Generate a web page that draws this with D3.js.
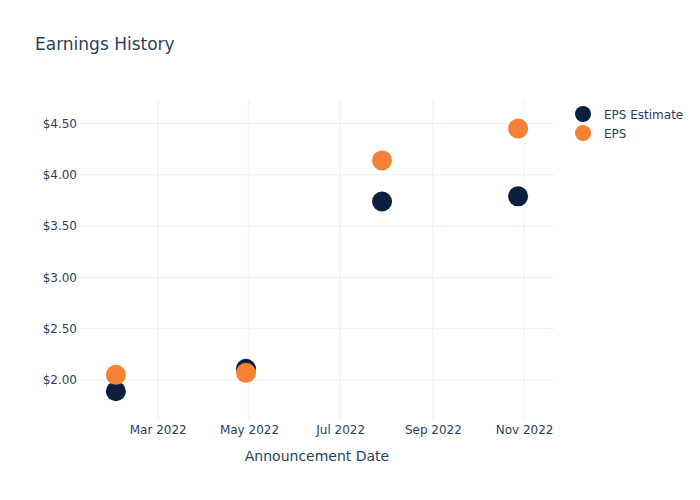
<!DOCTYPE html>
<html><head><meta charset="utf-8">
<script src="https://cdn.jsdelivr.net/npm/d3@7"></script>
<style>body{margin:0;background:#fff;font-family:"DejaVu Sans",sans-serif;}</style>
</head><body><svg id="c" width="700" height="500"></svg>
<script>
const dates = ["2022-02-01","2022-04-29","2022-07-29","2022-10-28"];
const epsEstimate = [1.89, 2.11, 3.74, 3.79];
const eps = [2.05, 2.07, 4.14, 4.45];
const seriesNames = ["EPS Estimate","EPS"];
const seriesColors = ["#0c1f3f","#f58134"];
const yTicks = [2.0, 2.5, 3.0, 3.5, 4.0, 4.5];
const xTicks = ["2022-03-01","2022-05-01","2022-07-01","2022-09-01","2022-11-01"];

const parse = d3.utcParse("%Y-%m-%d");
const svg = d3.select("#c");
const FF = "'DejaVu Sans',sans-serif";
const L = 80, R = 554, T = 100, B = 420;
const x = d3.scaleUtc().domain([parse("2022-01-08"), parse("2022-11-21")]).range([L, R]);
const y = d3.scaleLinear().domain([1.61, 4.729]).range([B, T]);
const txt = "#2a3f5f", grid = "#ebf0f8";

svg.append("text").attr("x", 35).attr("y", 50).attr("fill", txt)
  .attr("font-size", 17).attr("font-family", FF).text("Earnings History");

// grid
svg.append("g").selectAll("line").data(xTicks).join("line")
  .attr("x1", d => x(parse(d))).attr("x2", d => x(parse(d)))
  .attr("y1", T).attr("y2", B).attr("stroke", grid).attr("stroke-width", 1);
svg.append("g").selectAll("line").data(yTicks).join("line")
  .attr("x1", L).attr("x2", R).attr("y1", d => y(d)).attr("y2", d => y(d))
  .attr("stroke", grid).attr("stroke-width", 1);

// axes
const xa = svg.append("g").attr("transform", `translate(0,${B})`)
  .call(d3.axisBottom(x).tickValues(xTicks.map(parse)).tickFormat(d3.utcFormat("%b %Y")).tickSize(0).tickPadding(5));
xa.select(".domain").remove();
xa.selectAll("text").attr("fill", txt).attr("font-size", 12).attr("font-family", FF);
const ya = svg.append("g").attr("transform", `translate(${L},0)`)
  .call(d3.axisLeft(y).tickValues(yTicks).tickFormat(d => "$" + d3.format(".2f")(d)).tickSize(0).tickPadding(3));
ya.select(".domain").remove();
ya.selectAll("text").attr("fill", txt).attr("font-size", 12).attr("font-family", FF);

svg.append("text").attr("x", (L + R) / 2).attr("y", 461).attr("text-anchor", "middle")
  .attr("fill", txt).attr("font-size", 14).attr("font-family", FF).text("Announcement Date");

// points
[epsEstimate, eps].forEach((vals, i) => {
  svg.append("g").selectAll("circle").data(vals).join("circle")
    .attr("cx", (d, j) => x(parse(dates[j]))).attr("cy", d => y(d))
    .attr("r", 10).attr("fill", seriesColors[i]);
});

// legend
const lg = svg.append("g").selectAll("g").data(seriesNames).join("g")
  .attr("transform", (d, i) => `translate(583,${114 + i * 19})`);
lg.append("circle").attr("r", 8).attr("fill", (d, i) => seriesColors[i]);
lg.append("text").attr("x", 21).attr("y", 4.5).attr("fill", txt).attr("font-size", 12).attr("font-family", FF).text(d => d);
</script></body></html>
